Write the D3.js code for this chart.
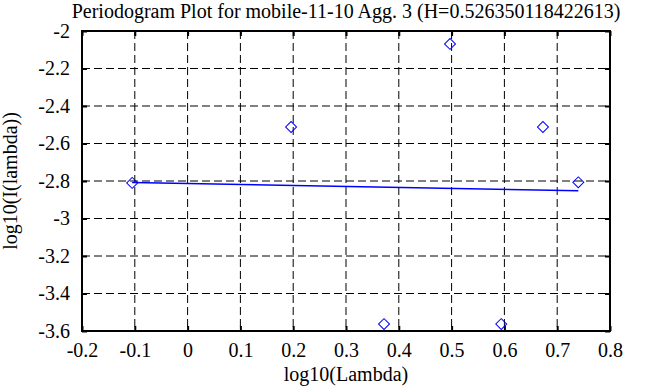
<!DOCTYPE html>
<html>
<head>
<meta charset="UTF-8" />
<title>Periodogram Plot</title>
<script src="https://d3js.org/d3.v7.min.js"></script>
<style type="text/css">
body {
    margin: 0;
    background-color: white;
}
svg text {
    font-family: "Liberation Serif", "Times New Roman", Times, Tinos, "Nimbus Roman", "DejaVu Serif", serif;
    font-size: 20px;
    fill: black;
}
.grid line {
    stroke: black;
    stroke-width: 1;
    stroke-dasharray: 8,4;
}
</style>
</head>
<body>
<svg width="663" height="387" id="chart"></svg>
<script type="text/javascript">
// data
var titleText = "Periodogram Plot for mobile-11-10 Agg. 3 (H=0.526350118422613)";
var hurst = 0.526350118422613;
var logLambda = [-0.105, 0.196, 0.372, 0.497, 0.594, 0.673, 0.740];
var logI = [-2.81, -2.512, -3.563, -2.069, -3.563, -2.512, -2.807];
var fitIntercept = -2.8135;               // slope of the fit = 1 - 2H
var xTicks = [-0.2, -0.1, 0, 0.1, 0.2, 0.3, 0.4, 0.5, 0.6, 0.7, 0.8];
var yTicks = [-3.6, -3.4, -3.2, -3, -2.8, -2.6, -2.4, -2.2, -2];

var serif = '"Liberation Serif", "Times New Roman", Times, Tinos, "Nimbus Roman", "DejaVu Serif", serif';
var svg = d3.select("#chart");
var pLeft = 82, pRight = 610, pTop = 31, pBottom = 331;

var x = d3.scaleLinear().domain([-0.2, 0.8]).range([pLeft, pRight]);
var y = d3.scaleLinear().domain([-3.6, -2]).range([pBottom, pTop]);

// dashed grid
var grid = svg.append("g").attr("class", "grid");
grid.selectAll("line.v").data(xTicks.slice(1, -1)).enter()
    .append("line").attr("class", "v")
    .attr("x1", function(d) { return x(d); }).attr("x2", function(d) { return x(d); })
    .attr("y1", pTop).attr("y2", pBottom);
grid.selectAll("line.h").data(yTicks.slice(1, -1)).enter()
    .append("line").attr("class", "h")
    .attr("x1", pLeft).attr("x2", pRight)
    .attr("y1", function(d) { return y(d); }).attr("y2", function(d) { return y(d); });

// axes with inward ticks on all four sides
var fmt = function(d) { return String(+d.toFixed(1)); };
function styleAxis(g) {
    g.attr("font-family", null).attr("font-size", null);
    g.select(".domain").remove();
    g.selectAll(".tick line").attr("stroke", "black").attr("stroke-width", 2);
    g.selectAll(".tick text").attr("fill", "black")
        .style("font-family", serif).style("font-size", "20px");
}
svg.append("g").attr("transform", "translate(0," + pBottom + ")")
    .call(d3.axisBottom(x).tickValues(xTicks).tickFormat(fmt).tickSizeInner(-5).tickPadding(12))
    .call(styleAxis);
svg.append("g").attr("transform", "translate(0," + pTop + ")")
    .call(d3.axisTop(x).tickValues(xTicks).tickFormat("").tickSizeInner(-5))
    .call(styleAxis);
svg.append("g").attr("transform", "translate(" + pLeft + ",0)")
    .call(d3.axisLeft(y).tickValues(yTicks).tickFormat(fmt).tickSizeInner(-5).tickPadding(12))
    .call(styleAxis);
svg.append("g").attr("transform", "translate(" + pRight + ",0)")
    .call(d3.axisRight(y).tickValues(yTicks).tickFormat("").tickSizeInner(-5))
    .call(styleAxis);

// frame
svg.append("rect")
    .attr("x", pLeft).attr("y", pTop)
    .attr("width", pRight - pLeft).attr("height", pBottom - pTop)
    .attr("fill", "none").attr("stroke", "black").attr("stroke-width", 2);

// fitted line
var slope = 1 - 2 * hurst;
var xEnds = d3.extent(logLambda);
svg.append("line")
    .attr("x1", x(xEnds[0])).attr("y1", y(fitIntercept + slope * xEnds[0]))
    .attr("x2", x(xEnds[1])).attr("y2", y(fitIntercept + slope * xEnds[1]))
    .attr("stroke", "#0000ff").attr("stroke-width", 1.5);

// diamonds
svg.append("g").selectAll("path").data(logLambda).enter()
    .append("path")
    .attr("d", d3.symbol().type(d3.symbolSquare).size(60))
    .attr("transform", function(d, i) {
        return "translate(" + x(d) + "," + y(logI[i]) + ") rotate(45)";
    })
    .attr("fill", "none").attr("stroke", "#0000ff").attr("stroke-width", 1);

// labels
svg.append("text").attr("x", (pLeft + pRight) / 2).attr("y", 18)
    .attr("text-anchor", "middle").style("font-family", serif).text(titleText);
svg.append("text").attr("x", (pLeft + pRight) / 2).attr("y", 381)
    .attr("text-anchor", "middle").style("font-family", serif).text("log10(Lambda)");
svg.append("text").attr("transform", "translate(17," + (pTop + pBottom) / 2 + ") rotate(-90)")
    .attr("text-anchor", "middle").style("font-family", serif).text("log10(I(lambda))");
</script>
</body>
</html>
